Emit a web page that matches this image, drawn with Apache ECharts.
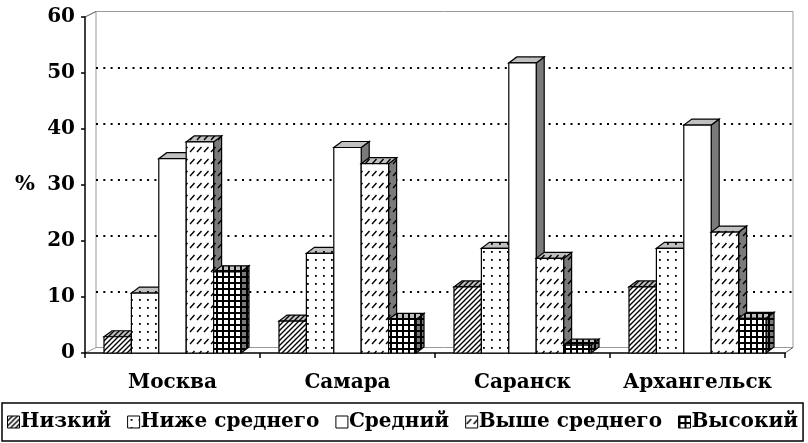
<!DOCTYPE html>
<html>
<head>
<meta charset="utf-8">
<script src="https://cdn.jsdelivr.net/npm/echarts@6/dist/echarts.min.js"></script>
<style>
  html, body { margin: 0; padding: 0; background: #fff; }
  #chart { width: 808px; height: 443px; }
</style>
</head>
<body>
<div id="chart"></div>
<script>
// Cities and income levels
const cities = ['Москва', 'Самара', 'Саранск', 'Архангельск'];
const levels = ['Низкий', 'Ниже среднего', 'Средний', 'Выше среднего', 'Высокий'];

// Share of respondents, % (one array per income level, in city order)
const lowValues        = [2.9, 5.7, 11.8, 11.8];
const belowAvgValues   = [10.7, 17.8, 18.7, 18.7];
const averageValues    = [34.7, 36.7, 51.8, 40.7];
const aboveAvgValues   = [37.7, 33.8, 16.9, 21.6];
const highValues       = [14.5, 6.0, 1.4, 6.2];

const yTicks = [0, 10, 20, 30, 40, 50, 60];

const seriesValues = [lowValues, belowAvgValues, averageValues, aboveAvgValues, highValues];
const patternKinds = ['hatch', 'dots', 'plain', 'dashdiag', 'grid'];

// Plot geometry: front plane and back wall
const FRONT = { left: 85, right: 23, top: 17, bottom: 90 };
const WALL  = { left: 96, right: 15, top: 11.5, bottom: 95.5 };
const DEPTH = { dx: 8, dy: -6 };
const BAR_FRACTION = 0.1566;

// Fill patterns drawn on small canvases
function makePattern(kind, bg) {
  const sizes = { hatch: [5, 5], dots: [8, 8], plain: [4, 4], dashdiag: [7, 12], grid: [6, 6] };
  const [w, h] = sizes[kind];
  const c = document.createElement('canvas');
  c.width = w; c.height = h;
  const g = c.getContext('2d');
  g.fillStyle = bg;
  g.fillRect(0, 0, w, h);
  g.strokeStyle = '#000';
  g.fillStyle = '#000';
  if (kind === 'hatch') {
    g.lineWidth = 1.4;
    g.beginPath();
    for (let k = -1; k <= 1; k++) {
      g.moveTo(k * 5 - 1, 6);
      g.lineTo(k * 5 + 6, -1);
    }
    g.stroke();
  } else if (kind === 'dots') {
    g.fillRect(3, 3, 1.8, 1.8);
  } else if (kind === 'dashdiag') {
    g.lineWidth = 1.4;
    g.beginPath();
    g.moveTo(1, 8);
    g.lineTo(5.5, 3);
    g.stroke();
  } else if (kind === 'grid') {
    g.fillRect(0, 0, w, 2);
    g.fillRect(0, 0, 2, h);
  }
  return c;
}

const patterns = patternKinds.map(k => ({
  front: { image: makePattern(k, '#ffffff'), repeat: 'repeat' },
  top:   { image: makePattern(k, '#c0c0c0'), repeat: 'repeat' },
  side:  { image: makePattern(k, '#7a7a7a'), repeat: 'repeat' }
}));

function makeRender(sIdx) {
  return function (params, api) {
    const ci = api.value(0);
    const v = api.value(1);
    const base = api.coord([ci, 0]);
    const top = api.coord([ci, v]);
    const band = api.size([1, 0])[0];
    const w = band * BAR_FRACTION;
    const x0 = base[0] + (sIdx - 2.5) * w;
    const x1 = x0 + w;
    const yt = top[1], yb = base[1];
    const dx = DEPTH.dx, dy = DEPTH.dy;
    const stroke = { stroke: '#000', lineWidth: 1.2 };
    const p = patterns[sIdx];
    return {
      type: 'group',
      children: [
        {
          type: 'polygon',
          shape: { points: [[x1, yt], [x1 + dx, yt + dy], [x1 + dx, yb + dy], [x1, yb]] },
          style: Object.assign({ fill: p.side }, stroke)
        },
        {
          type: 'polygon',
          shape: { points: [[x0, yt], [x1, yt], [x1 + dx, yt + dy], [x0 + dx, yt + dy]] },
          style: Object.assign({ fill: p.top }, stroke)
        },
        {
          type: 'rect',
          shape: { x: x0, y: yt, width: w, height: yb - yt },
          style: Object.assign({ fill: p.front }, stroke)
        }
      ]
    };
  };
}

const serifBold = { fontFamily: 'DejaVu Serif', fontWeight: 'bold', color: '#000' };

const chart = echarts.init(document.getElementById('chart'), null, { renderer: 'canvas' });

const option = {
  backgroundColor: '#fff',
  animation: false,
  grid: [
    { left: FRONT.left, right: FRONT.right, top: FRONT.top, bottom: FRONT.bottom, show: false },
    { left: WALL.left, right: WALL.right, top: WALL.top, bottom: WALL.bottom, show: true,
      borderColor: '#9a9a9a', borderWidth: 1, backgroundColor: 'transparent', z: 0 }
  ],
  xAxis: [
    {
      type: 'category', gridIndex: 0, data: cities, boundaryGap: true,
      axisLine: { show: true, lineStyle: { color: '#000', width: 1.5 } },
      axisTick: { show: true, length: 5, lineStyle: { color: '#000', width: 1.5 } },
      axisLabel: Object.assign({ fontSize: 20, margin: 20, interval: 0, hideOverlap: false }, serifBold),
      splitLine: { show: false }
    },
    {
      type: 'category', gridIndex: 1, data: cities, show: false
    }
  ],
  yAxis: [
    {
      type: 'value', gridIndex: 0, min: 0, max: 60, interval: 10,
      name: '%', nameLocation: 'middle', nameRotate: 0, nameGap: 50,
      nameTextStyle: Object.assign({ fontSize: 21 }, serifBold),
      axisLine: { show: true, lineStyle: { color: '#000', width: 1.5 } },
      axisTick: { show: true, length: 4, lineStyle: { color: '#000', width: 1.5 } },
      axisLabel: Object.assign({ fontSize: 20, margin: 10,
        formatter: v => (yTicks.indexOf(v) >= 0 ? String(v) : '') }, serifBold),
      splitLine: { show: false }
    },
    {
      type: 'value', gridIndex: 1, min: 0, max: 60, interval: 10,
      axisLine: { show: false }, axisTick: { show: false }, axisLabel: { show: false },
      splitLine: { show: true, showMinLine: false, showMaxLine: false,
        lineStyle: { color: '#000', width: 2, type: [2, 5.3] } }
    }
  ],
  legend: {
    data: levels,
    left: 2, top: 403,
    orient: 'horizontal',
    icon: 'rect',
    itemWidth: 12, itemHeight: 12, itemGap: 16,
    padding: [9, 5, 9, 5],
    borderColor: '#000', borderWidth: 1.5,
    itemStyle: { borderColor: '#000', borderWidth: 1 },
    textStyle: Object.assign({ fontSize: 20, padding: [0, 0, 0, -4] }, serifBold),
    selectedMode: false
  },
  graphic: [
    { type: 'line', silent: true, shape: { x1: FRONT.left, y1: FRONT.top, x2: WALL.left, y2: WALL.top }, style: { stroke: '#555', lineWidth: 1 } },
    { type: 'line', silent: true, shape: { x1: FRONT.left, y1: 443 - FRONT.bottom, x2: WALL.left, y2: 443 - WALL.bottom }, style: { stroke: '#9a9a9a', lineWidth: 1 } },
    { type: 'line', silent: true, shape: { x1: 808 - FRONT.right, y1: 443 - FRONT.bottom, x2: 808 - WALL.right, y2: 443 - WALL.bottom }, style: { stroke: '#555', lineWidth: 1 } }
  ],
  series: levels.map((name, i) => ({
    name: name,
    type: 'custom',
    xAxisIndex: 0, yAxisIndex: 0,
    itemStyle: { color: patterns[i].front, borderColor: '#000' },
    renderItem: makeRender(i),
    encode: { x: 0, y: 1 },
    data: seriesValues[i].map((v, ci) => [ci, v]),
    z: 3
  }))
};

chart.setOption(option);
</script>
</body>
</html>
